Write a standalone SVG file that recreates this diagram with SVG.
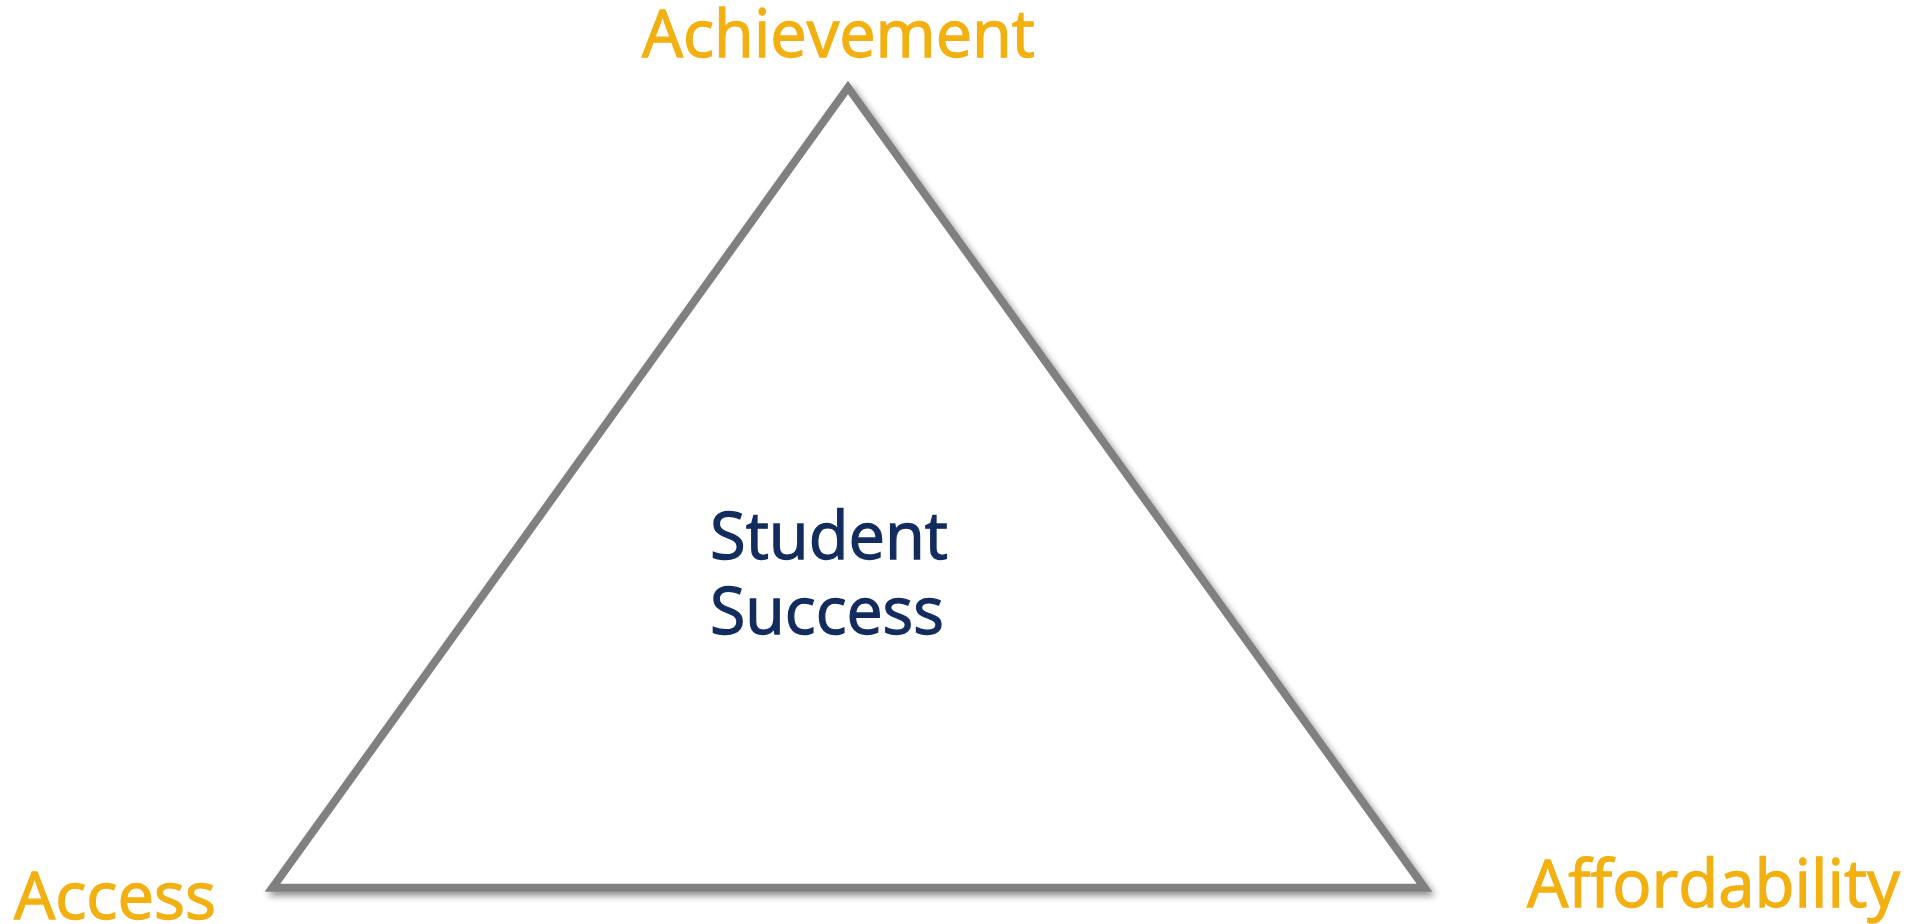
<svg xmlns="http://www.w3.org/2000/svg" width="1924" height="924" viewBox="0 0 1924 924">
<style>
.lbl{font-family:"Open Sans","Noto Sans","Liberation Sans",sans-serif;font-size:66px;font-weight:400;fill:#F2B011;stroke:#F2B011;stroke-width:1.3}
.ctr{font-family:"Open Sans","Noto Sans","Liberation Sans",sans-serif;font-size:66px;font-weight:400;fill:#132C5E;stroke:#132C5E;stroke-width:1.3}
.tri{fill:#FFFFFF;stroke:#808080;stroke-width:8;stroke-linejoin:miter;stroke-miterlimit:10}
</style>
<defs>
<filter id="shadow" x="-10%" y="-10%" width="120%" height="120%">
<feDropShadow dx="3" dy="4" stdDeviation="3.5" flood-color="#000000" flood-opacity="0.45"/>
</filter>
</defs>
<rect width="1924" height="924" fill="#FFFFFF"/>
<g id="triangle">
<polygon class="tri" points="848,87.5 272.4,887.8 1424.6,887.8" filter="url(#shadow)"/>
</g>
<g id="center">
<text class="ctr" x="710" y="559" textLength="238" lengthAdjust="spacingAndGlyphs">Student</text>
<text class="ctr" x="710" y="634" textLength="234" lengthAdjust="spacingAndGlyphs">Success</text>
</g>
<g id="achievement"><text class="lbl" x="642" y="57" textLength="393" lengthAdjust="spacingAndGlyphs">Achievement</text></g>
<g id="access"><text class="lbl" x="14" y="919" textLength="202" lengthAdjust="spacingAndGlyphs">Access</text></g>
<g id="affordability"><text class="lbl" x="1527" y="907" textLength="373" lengthAdjust="spacingAndGlyphs">Affordability</text></g>
<g id="connectors"></g>
</svg>
